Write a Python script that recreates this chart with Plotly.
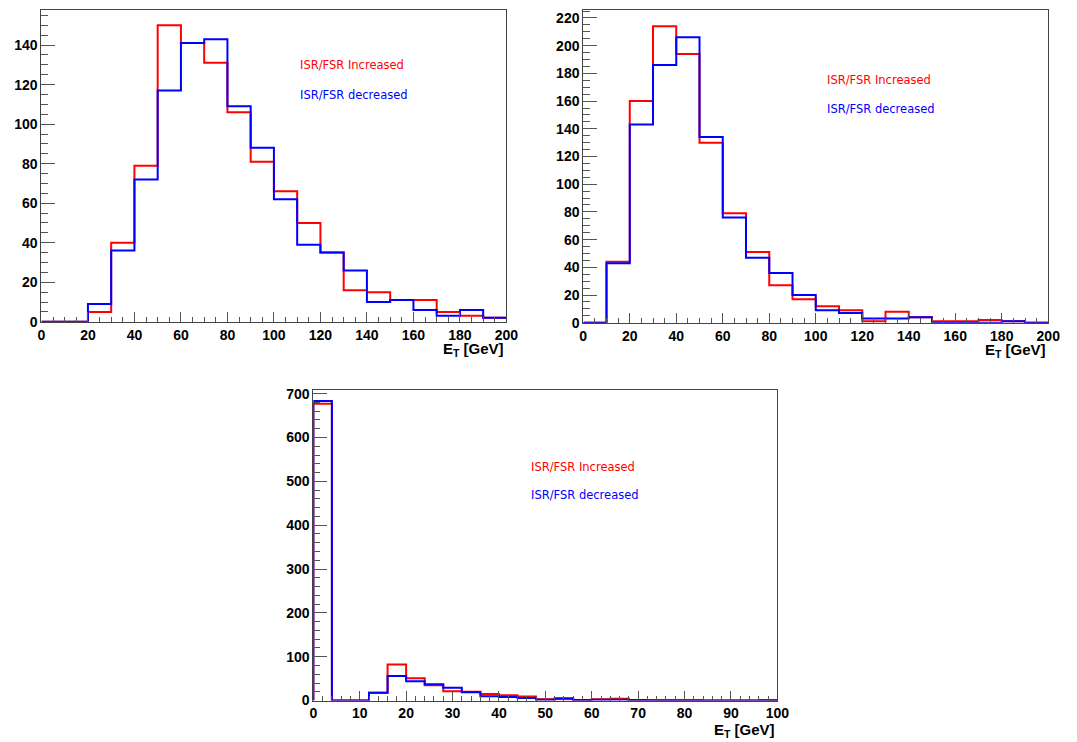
import plotly.graph_objects as go

# ---------------- data ----------------
# Panel 1 : 20 bins of 10 GeV, 0..200
p1_edges_step = 10
p1_increased = [0, 0, 5, 40, 79, 150, 141, 131, 106, 81, 66, 50, 35, 16, 15, 11, 11, 5, 3, 2]
p1_decreased = [0, 0, 9, 36, 72, 117, 141, 143, 109, 88, 62, 39, 35, 26, 10, 11, 6, 3, 6, 2]

# Panel 2 : 20 bins of 10 GeV, 0..200
p2_edges_step = 10
p2_increased = [0, 44, 160, 214, 194, 130, 79, 51, 27, 17, 12, 9, 1, 8, 4, 1, 1, 2, 1, 0]
p2_decreased = [0, 43, 143, 186, 206, 134, 76, 47, 36, 20, 9, 7, 3, 3, 4, 0, 0, 0, 1, 0]

# Panel 3 : 25 bins of 4 GeV, 0..100
p3_edges_step = 4
p3_increased = [677, 0, 0, 18, 82, 51, 35, 21, 20, 15, 12, 9, 3, 3, 1, 3, 4, 1, 1, 1, 1, 0, 0, 0, 1]
p3_decreased = [683, 0, 0, 18, 56, 44, 37, 29, 19, 10, 8, 6, 2, 5, 1, 2, 2, 1, 0, 0, 0, 0, 0, 0, 0]

legend_labels = ["ISR/FSR Increased", "ISR/FSR decreased"]
series_colors = ["#ff0000", "#0000ff"]
x_title = "E<sub>T</sub> [GeV]"

W, H = 1077, 742

# panel frames in pixels: (left, right, top, bottom)
frames = [(38, 510, 6, 323), (588, 1060, 6, 324), (314, 785, 392, 708)]
title_off = [16, 16, 19]
yranges = [157.8, 225.8, 709]
xranges = [200, 200, 100]
ydt = [(20, 5), (20, 5), (100, 20)]
xdt = [(20, 5), (20, 5), (10, 2)]
text_pos = [(110.2, 129.8, 114.9), (103.8, 175.4, 154.0), (46.5, 533.5, 468.5)]

panels = [
    (p1_edges_step, p1_increased, p1_decreased),
    (p2_edges_step, p2_increased, p2_decreased),
    (p3_edges_step, p3_increased, p3_decreased),
]


def step_xy(step, vals):
    edges = [i * step for i in range(len(vals) + 1)]
    xs = [edges[0]] + edges
    ys = [0] + list(vals) + [vals[-1]]
    return xs, ys


fig = go.Figure()
tickfont = dict(family="Liberation Sans, Arial, sans-serif", size=14, color="black", weight="bold")
annotations = []

for i, (step, inc, dec) in enumerate(panels):
    n = "" if i == 0 else str(i + 1)
    xa, ya = "x" + n, "y" + n
    for vals, col in zip([inc, dec], series_colors):
        xs, ys = step_xy(step, vals)
        fig.add_trace(go.Scatter(x=xs, y=ys, mode="lines", line=dict(color=col, width=2, shape="hv"),
                                 xaxis=xa, yaxis=ya, showlegend=False, hoverinfo="skip"))
    l, r, t, b = frames[i]
    xdom = [l / W, r / W]
    ydom = [1 - b / H, 1 - t / H]
    axis_common = dict(showgrid=False, zeroline=False, showline=True, mirror=True,
                       linecolor="#444", linewidth=1, ticks="inside", tickcolor="#555",
                       tickfont=tickfont)
    fig.layout["xaxis" + n] = dict(domain=xdom, range=[0, xranges[i]], anchor=ya,
                                   dtick=xdt[i][0], tick0=0, ticklen=10,
                                   minor=dict(dtick=xdt[i][1], ticklen=5, ticks="inside", tickcolor="#555"),
                                   **axis_common)
    fig.layout["yaxis" + n] = dict(domain=ydom, range=[0, yranges[i]], anchor=xa,
                                   dtick=ydt[i][0], tick0=0, ticklen=14,
                                   minor=dict(dtick=ydt[i][1], ticklen=7, ticks="inside", tickcolor="#555"),
                                   **axis_common)
    tx, ty1, ty2 = text_pos[i]
    for lab, col, ty in zip(legend_labels, series_colors, [ty1, ty2]):
        annotations.append(dict(x=tx, y=ty, xref=xa, yref=ya, text=lab, showarrow=False,
                                xanchor="left", yanchor="middle",
                                font=dict(family="DejaVu Sans", size=11.5, color=col)))
    annotations.append(dict(x=r / W, y=1 - (b + title_off[i]) / H, xref="paper", yref="paper", text=x_title,
                            showarrow=False, xanchor="right", yanchor="top",
                            font=dict(family="Liberation Sans, Arial, sans-serif", size=15,
                                      color="black", weight="bold")))

fig.update_layout(width=W, height=H, autosize=False, margin=dict(l=0, r=0, t=0, b=0),
                  paper_bgcolor="white", plot_bgcolor="white", annotations=annotations)

fig.write_html("out.html", config={"displayModeBar": False},
               post_script="document.body.style.margin='0';document.body.style.overflow='hidden';")
